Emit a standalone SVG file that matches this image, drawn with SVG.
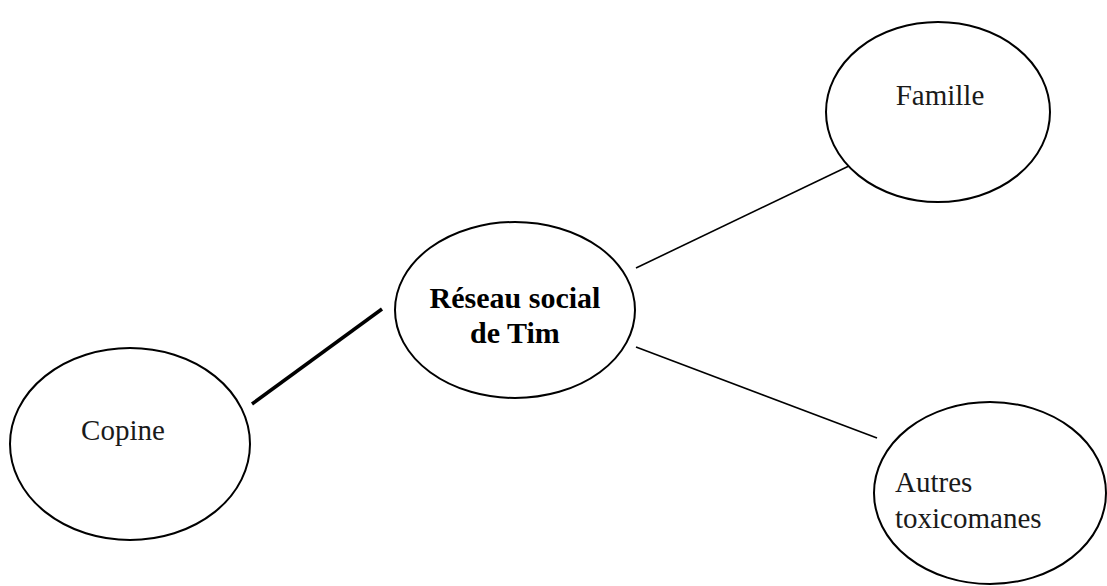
<svg xmlns="http://www.w3.org/2000/svg" width="1107" height="586" viewBox="0 0 1107 586">
  <style>
    .node ellipse { fill: #ffffff; stroke: #000000; stroke-width: 2; }
    .lbl { font-family: "Liberation Serif", "Times New Roman", serif; font-size: 29px; fill: #1a1a1a; }
    .hub { font-family: "Liberation Serif", "Times New Roman", serif; font-size: 30px; font-weight: bold; fill: #000000; }
    .link { stroke: #000000; stroke-width: 1.6; fill: none; }
    .strong { stroke-width: 3.5; }
  </style>
  <rect width="1107" height="586" fill="#ffffff"/>

  <g id="connectors">
    <line class="link" x1="636" y1="268" x2="851" y2="165"/>
    <line class="link" x1="636" y1="347" x2="877" y2="438"/>
    <line class="link strong" x1="252" y1="404" x2="382" y2="309"/>
  </g>

  <g id="reseau" class="node">
    <ellipse cx="515" cy="310" rx="120" ry="88"/>
    <text class="hub" x="515" y="308" text-anchor="middle">Réseau social</text>
    <text class="hub" x="515" y="343" text-anchor="middle">de Tim</text>
  </g>

  <g id="famille" class="node">
    <ellipse cx="938" cy="112" rx="112" ry="90"/>
    <text class="lbl" x="940" y="105" text-anchor="middle">Famille</text>
  </g>

  <g id="copine" class="node">
    <ellipse cx="130" cy="444" rx="120" ry="96"/>
    <text class="lbl" x="123" y="440" text-anchor="middle">Copine</text>
  </g>

  <g id="autres" class="node">
    <ellipse cx="990" cy="493" rx="116" ry="91"/>
    <text class="lbl" x="895" y="492">Autres</text>
    <text class="lbl" x="895" y="528">toxicomanes</text>
  </g>
</svg>
